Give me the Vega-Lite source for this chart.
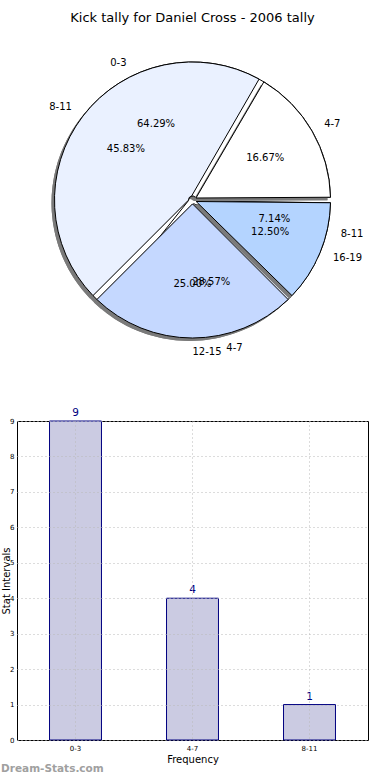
{
  "$schema": "https://vega.github.io/schema/vega-lite/v6.json",
  "padding": 0,
  "bounds": "flush",
  "spacing": 21,
  "config": {
    "font": "DejaVu Sans",
    "view": {"stroke": "black", "strokeWidth": 1},
    "axis": {"labelColor": "black", "titleColor": "black", "titleFontWeight": "normal", "labelFont": "DejaVu Sans", "titleFont": "DejaVu Sans"}
  },
  "datasets": {
    "pie1": [
      {"range": "0-3", "count": 9, "pct": 64.29, "label": "64.29%", "idx": 0},
      {"range": "4-7", "count": 4, "pct": 28.57, "label": "28.57%", "idx": 1},
      {"range": "8-11", "count": 1, "pct": 7.14, "label": "7.14%", "idx": 2}
    ],
    "pie2": [
      {"range": "4-7", "count": 4, "pct": 16.67, "label": "16.67%", "idx": 0},
      {"range": "8-11", "count": 11, "pct": 45.83, "label": "45.83%", "idx": 1},
      {"range": "12-15", "count": 6, "pct": 25.0, "label": "25.00%", "idx": 2},
      {"range": "16-19", "count": 3, "pct": 12.5, "label": "12.50%", "idx": 3}
    ],
    "bars": [
      {"range": "0-3", "count": 9},
      {"range": "4-7", "count": 4},
      {"range": "8-11", "count": 1}
    ]
  },
  "vconcat": [
    {
      "width": 351,
      "height": 400,
      "view": {"stroke": null},
      "title": {"text": "Kick tally for Daniel Cross - 2006 tally", "fontSize": 13, "fontWeight": "normal", "anchor": "middle", "offset": -35, "baseline": "alphabetic", "color": "black"},
      "encoding": {
        "theta": {"field": "pct", "type": "quantitative", "stack": true, "scale": {"domain": [0, 100], "range": [1.5708, -4.7124]}},
        "order": {"field": "idx", "type": "quantitative"}
      },
      "layer": [
        {"data": {"name": "pie1"}, "mark": {"type": "arc", "outerRadius": 138, "innerRadius": 4, "padAngle": 0.04, "fill": "#7a7a7a", "xOffset": -3, "yOffset": 3}},
        {"data": {"name": "pie1"}, "mark": {"type": "arc", "outerRadius": 138, "innerRadius": 4, "padAngle": 0.04, "stroke": "black", "strokeWidth": 1},
         "encoding": {"color": {"field": "idx", "type": "nominal", "scale": {"domain": [0, 1, 2, 3], "range": ["#ffffff", "#eaf1ff", "#c5d8ff", "#b4d4ff"]}, "legend": null}}},
        {"data": {"name": "pie2"}, "mark": {"type": "arc", "outerRadius": 138, "innerRadius": 4, "padAngle": 0.04, "fill": "#7a7a7a", "xOffset": -3, "yOffset": 3}},
        {"data": {"name": "pie2"}, "mark": {"type": "arc", "outerRadius": 138, "innerRadius": 4, "padAngle": 0.04, "stroke": "black", "strokeWidth": 1},
         "encoding": {"color": {"field": "idx", "type": "nominal", "scale": {"domain": [0, 1, 2, 3], "range": ["#ffffff", "#eaf1ff", "#c5d8ff", "#b4d4ff"]}, "legend": null}}},
        {"data": {"name": "pie1"}, "mark": {"type": "text", "radius": 84, "fontSize": 10, "color": "black"},
         "encoding": {"text": {"field": "label"}}},
        {"data": {"name": "pie2"}, "mark": {"type": "text", "radius": 84, "fontSize": 10, "color": "black"},
         "encoding": {"text": {"field": "label"}}},
        {"data": {"name": "pie1"}, "mark": {"type": "text", "radius": 152, "fontSize": 10, "align": "left", "baseline": "middle", "color": "black"},
         "encoding": {"text": {"condition": {"test": "datum.idx != 0", "field": "range"}, "value": ""}}},
        {"data": {"name": "pie1"}, "mark": {"type": "text", "radius": 152, "fontSize": 10, "align": "right", "baseline": "middle", "color": "black"},
         "encoding": {"text": {"condition": {"test": "datum.idx == 0", "field": "range"}, "value": ""}}},
        {"data": {"name": "pie2"}, "mark": {"type": "text", "radius": 152, "fontSize": 10, "align": "left", "baseline": "middle", "color": "black"},
         "encoding": {"text": {"condition": {"test": "datum.idx != 1", "field": "range"}, "value": ""}}},
        {"data": {"name": "pie2"}, "mark": {"type": "text", "radius": 152, "fontSize": 10, "align": "right", "baseline": "middle", "color": "black"},
         "encoding": {"text": {"condition": {"test": "datum.idx == 1", "field": "range"}, "value": ""}}}
      ]
    },
    {
      "width": 351,
      "height": 319,
      "data": {"name": "bars"},
      "title": {"text": "Dream-Stats.com", "orient": "bottom", "anchor": "start", "frame": "bounds", "fontSize": 10.5, "fontWeight": "bold", "color": "#a0a0a0", "offset": 0},
      "encoding": {
        "x": {"field": "range", "type": "nominal", "sort": null,
              "scale": {"paddingInner": 0.556, "paddingOuter": 0.278},
              "axis": {"title": "Frequency", "labelAngle": 0, "labelFontSize": 7, "labelPadding": 4, "titleFontSize": 10, "titlePadding": 3, "ticks": false, "domain": false, "grid": true, "gridDash": [1, 3], "gridColor": "#b8b8b8", "zindex": 1}},
        "y": {"field": "count", "type": "quantitative", "scale": {"domain": [0, 9], "nice": false},
              "axis": {"title": "Stat Intervals", "values": [0, 1, 2, 3, 4, 5, 6, 7, 8, 9], "format": "d", "labelFontSize": 7, "labelPadding": 3, "labelFlush": false, "labelOverlap": false, "titleFontSize": 10, "titlePadding": -1.5, "ticks": false, "domain": false, "grid": true, "gridDash": [1, 3], "gridColor": "#b8b8b8", "zindex": 1}}
      },
      "layer": [
        {"mark": {"type": "bar", "fill": "#cbcbe2", "stroke": "#000080", "strokeWidth": 1}},
        {"mark": {"type": "text", "dy": -8, "fontSize": 10.5, "color": "#000080"}, "encoding": {"text": {"field": "count"}}}
      ]
    }
  ]
}
